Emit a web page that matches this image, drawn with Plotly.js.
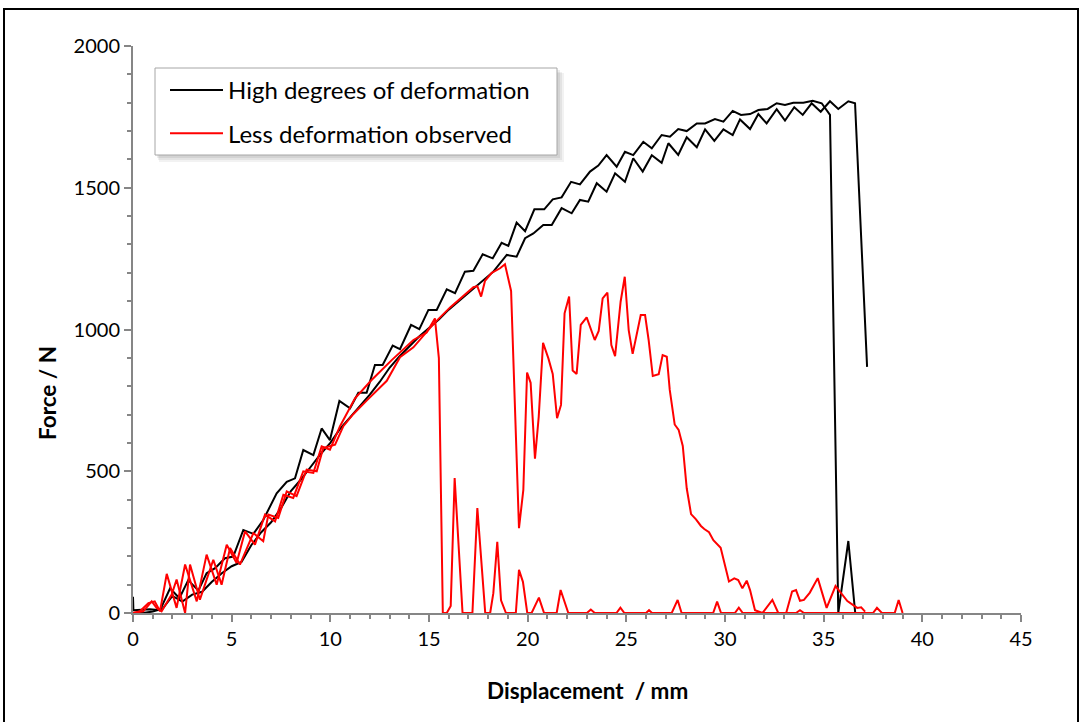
<!DOCTYPE html>
<html><head><meta charset="utf-8">
<script src="https://cdn.plot.ly/plotly-3.0.1.min.js"></script>
<style>html,body{margin:0;padding:0;background:#fff}#chart{width:1084px;height:722px}</style>
</head><body><div id="chart"></div>
<script>
// High degrees of deformation — specimen A (upper curve)
const hiA_x = [0,0.02,0.86,1.37,1.88,2.35,2.8,3.31,3.73,4.16,4.66,5.08,5.59,6.1,6.6,7.28,7.79,8.21,8.63,9.14,9.56,9.98,10.46,11.0,11.42,11.84,12.26,12.65,13.16,13.53,14.09,14.51,14.97,15.39,15.9,16.32,16.82,17.25,17.72,18.23,18.68,19.02,19.44,19.87,20.34,20.84,21.27,21.72,22.2,22.65,23.16,23.58,24.0,24.51,24.93,25.35,25.86,26.29,26.79,27.21,27.63,28.06,28.57,28.99,29.49,29.92,30.39,30.81,31.27,31.69,32.16,32.62,33.04,33.46,33.97,34.44,34.9,35.32,35.74,36.25,36.6,37.1];
const hiA_y = [57,10,13,10,87,52,116,79,140,158,193,199,293,279,328,422,463,475,575,557,651,610,748,722,777,777,875,875,943,931,1016,1001,1069,1069,1142,1128,1204,1207,1265,1251,1306,1295,1377,1347,1424,1424,1459,1466,1521,1512,1557,1578,1615,1574,1627,1615,1662,1639,1686,1680,1707,1700,1727,1727,1742,1733,1771,1757,1760,1774,1778,1798,1792,1800,1800,1807,1798,1757,0,254,0,0];
// High degrees of deformation — specimen B (lower curve)
const hiB_x = [0,0.5,1.0,1.5,2.0,2.5,3.0,3.5,4.0,4.5,5.0,5.5,6.0,6.5,7.0,7.5,8.0,8.5,9.0,9.5,10.0,10.5,11.0,11.5,12.0,12.5,13.0,13.5,14.0,14.5,15.0,15.5,16.0,16.5,17.0,17.58,18.26,18.94,19.44,19.87,20.29,20.79,21.22,21.72,22.23,22.65,23.07,23.5,24.0,24.43,24.93,25.35,25.83,26.29,26.79,27.13,27.63,28.06,28.57,28.99,29.46,29.92,30.39,30.76,31.27,31.69,32.11,32.62,33.04,33.51,33.94,34.39,34.85,35.32,35.74,36.25,36.59,37.2];
const hiB_y = [0,0,5,15,60,40,65,75,110,140,165,180,240,285,320,370,430,470,515,560,600,650,690,730,770,815,865,905,940,975,1005,1035,1070,1100,1130,1163,1204,1263,1257,1322,1339,1369,1369,1428,1410,1457,1451,1516,1486,1551,1521,1604,1557,1615,1588,1657,1616,1678,1643,1706,1665,1706,1686,1741,1707,1760,1727,1777,1737,1784,1757,1798,1768,1805,1778,1805,1798,868];
// Less deformation observed — specimen A
const loA_x = [0,0.35,0.78,1.1,1.37,1.71,2.21,2.64,3.23,3.73,4.24,4.75,5.25,5.68,6.18,6.69,7.2,7.62,8.12,8.63,9.14,9.56,9.98,10.49,11.25,12.09,13.11,14.21,14.88,15.3,15.5,15.7,15.9,16.1,16.3,16.7,17.2,17.45,17.85,18.1,18.26,18.46,18.65,18.9,19.4,19.56,19.76,19.98,20.2,20.57,20.83,21.47,21.67,22.06,23.0,23.2,23.4,24.5,24.7,24.9,26.0,26.15,26.3,27.3,27.6,27.8,29.4,29.6,29.8,30.5,30.7,30.9,33.6,33.8,34.0,37.5,37.7,37.95,38.6,38.8,39.0];
const loA_y = [0,6,35,41,6,138,18,171,41,206,100,241,176,288,241,347,323,417,406,500,494,588,576,659,757,822,892,963,989,1039,899,0,0,25,476,0,0,370,0,0,70,251,45,0,0,152,110,0,0,54,0,0,81,0,0,12,0,0,19,0,0,10,0,0,46,0,0,40,0,0,19,0,0,10,0,0,18,0,0,46,0];
// Less deformation observed — specimen B
const loB_x = [0,0.52,0.95,1.2,1.45,1.96,2.21,2.64,2.89,3.39,4.07,4.49,4.92,5.42,6.1,6.6,6.86,7.36,7.79,8.29,8.8,9.31,9.64,10.24,10.66,11.17,11.84,12.86,13.53,14.21,15.22,16.07,17.25,17.45,17.64,17.84,18.18,18.6,18.85,19.16,19.56,19.78,19.97,20.15,20.37,20.56,20.78,21.05,21.27,21.49,21.69,21.87,22.1,22.28,22.48,22.69,22.99,23.4,23.6,23.8,24.04,24.24,24.43,24.71,24.92,25.12,25.32,25.73,25.95,26.13,26.34,26.64,26.84,27.05,27.2,27.45,27.65,27.86,28.06,28.28,28.53,28.78,28.95,29.19,29.41,29.78,30.2,30.47,30.67,30.88,31.1,31.27,31.52,31.9,32.4,32.7,33.1,33.4,33.6,33.8,34.0,34.3,34.7,35.15,35.6,36.2,36.7,36.9,37.1];
const loB_y = [0,6,41,18,6,65,118,0,171,47,188,100,229,171,282,253,347,335,429,412,506,500,582,594,659,702,749,819,902,937,1019,1078,1149,1153,1116,1172,1200,1216,1230,1136,299,434,848,812,544,692,953,898,843,687,734,1057,1116,855,843,1016,1043,963,995,1110,1130,945,906,1098,1186,998,914,1051,1051,963,836,842,910,904,787,665,646,589,440,349,330,307,296,285,257,230,111,122,116,87,114,81,10,0,46,0,0,76,81,43,46,72,123,18,95,42,18,20,5];

const seriesNames = ['High degrees of deformation', 'Less deformation observed'];
const xTickVals = [0,5,10,15,20,25,30,35,40,45];
const yTickVals = [0,500,1000,1500,2000];
const xTitle = 'Displacement  / mm';
const yTitle = 'Force / N';

const FONT = 'Lato, "Open Sans", sans-serif';
const BLACK = '#000000', RED = '#ff0000', AXIS = '#868686';

function tr(x, y, name, color, show){
  return {x:x, y:y, type:'scatter', mode:'lines', name:name, legendgroup:name,
    showlegend:show, line:{color:color, width:2}, hoverinfo:'skip'};
}
const data = [
  tr(hiA_x, hiA_y, seriesNames[0], BLACK, true),
  tr(hiB_x, hiB_y, seriesNames[0], BLACK, false),
  tr(loA_x, loA_y, seriesNames[1], RED, true),
  tr(loB_x, loB_y, seriesNames[1], RED, false)
];

const L=133, R=63, T=46, B=109, PW=1084-L-R, PH=722-T-B;
const px = v => (v-L)/PW, py = v => (T+PH-v)/PH;

function box(x0,y0,x1,y1,fill,line){
  return {type:'rect', xref:'paper', yref:'paper', x0:px(x0), x1:px(x1), y0:py(y1), y1:py(y0),
    fillcolor:fill, line:line || {width:0}, layer:'above'};
}

const layout = {
  width:1084, height:722,
  margin:{l:L, r:R, t:T, b:B, pad:0},
  paper_bgcolor:'#fff', plot_bgcolor:'#fff',
  font:{family:FONT, color:'#000', size:20},
  showlegend:true,
  legend:{x:px(165), y:py(68), xanchor:'left', yanchor:'top', bgcolor:'rgba(0,0,0,0)',
    borderwidth:0, font:{family:FONT, size:24, color:'#000'},
    traceorder:'grouped', tracegroupgap:9, itemwidth:53},
  xaxis:{range:[0,45], tickvals:xTickVals, ticktext:xTickVals.map(String),
    showgrid:false, zeroline:false, showline:true, linecolor:AXIS, linewidth:2,
    ticks:'outside', ticklen:7, tickwidth:2, tickcolor:AXIS,
    minor:{dtick:1, ticks:'outside', ticklen:4, tickwidth:2, tickcolor:AXIS},
    tickfont:{family:FONT, size:20, color:'#000'}, fixedrange:true},
  yaxis:{range:[0,2000], tickvals:yTickVals, ticktext:yTickVals.map(String),
    showgrid:false, zeroline:false, showline:true, linecolor:AXIS, linewidth:2,
    ticks:'outside', ticklen:7, tickwidth:2, tickcolor:AXIS,
    minor:{dtick:100, ticks:'outside', ticklen:4, tickwidth:2, tickcolor:AXIS},
    tickfont:{family:FONT, size:20, color:'#000'}, fixedrange:true},
  annotations:[
    {text:xTitle, xref:'paper', yref:'paper', x:px(587), y:py(690), xanchor:'center', yanchor:'middle',
      showarrow:false, font:{family:FONT, size:22.5, color:'#000', weight:'bold'}},
    {text:yTitle, xref:'paper', yref:'paper', x:px(47), y:py(393), xanchor:'center', yanchor:'middle',
      textangle:-90, showarrow:false, font:{family:FONT, size:22.5, color:'#000', weight:'bold'}}
  ],
  shapes:[
    box(159,73,564,162,'rgba(0,0,0,0.05)'),
    box(158,72,562,160,'rgba(0,0,0,0.06)'),
    box(157,70,560,158,'rgba(0,0,0,0.07)'),
    box(155,68,557,155,'#ffffff',{color:'#a6a6a6', width:1}),
    {type:'rect', xref:'paper', yref:'paper', x0:px(4), x1:px(1078), y0:py(740), y1:py(9),
      fillcolor:'rgba(0,0,0,0)', line:{color:'#000', width:2}, layer:'above'}
  ]
};
Plotly.newPlot('chart', data, layout, {displayModeBar:false, staticPlot:true});
</script>
</body></html>
